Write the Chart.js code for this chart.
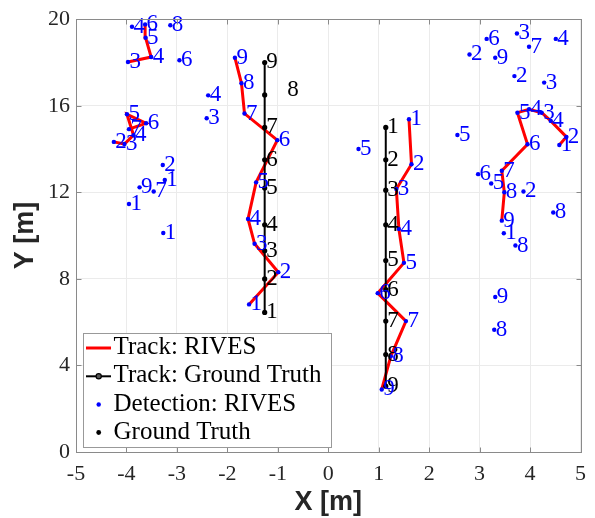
<!DOCTYPE html>
<html><head><meta charset="utf-8">
<script src="https://cdn.jsdelivr.net/npm/chart.js@4/dist/chart.umd.min.js"></script>
<style>html,body{margin:0;padding:0;background:#fff;}</style>
</head><body>
<canvas id="c" width="595" height="518"></canvas>
<script>
// ---- Data ----
// RIVES detections (blue points) with their frame number labels
const detX = [
  -3.89,-3.63,-3.62,-3.51,-3.97,-3.13,-2.95,-2.38,-2.41,
  -3.99,-3.61,-3.95,-3.86,-4.25,-4.04,
  -3.28,-3.24,-3.74,-3.46,-3.95,-3.27,
  -1.57,-0.99,-1.46,-1.59,-1.43,-1.01,-1.66,-1.72,-1.85,
  1.60,1.65,1.35,1.40,1.50,0.98,1.54,1.24,1.06,0.60,
  3.14,3.74,3.98,4.51,2.80,3.31,3.69,4.28,
  4.58,4.72,4.41,4.23,3.98,3.75,3.95,3.44,3.49,3.44,
  2.97,3.23,3.87,3.48,3.71,4.46,2.56,3.31,3.29
];
const detY = [
  19.65,19.76,19.14,18.25,18.02,19.72,18.10,16.48,15.42,
  15.61,15.19,14.92,14.64,14.33,14.23,
  13.26,12.57,12.23,12.04,11.46,10.12,
  6.82,8.31,9.62,10.77,12.46,14.41,15.64,17.04,18.22,
  15.38,13.30,12.15,10.31,8.74,7.34,6.05,4.42,2.89,14.00,
  19.09,19.34,18.73,19.09,18.37,18.22,17.37,17.07,
  14.19,14.56,15.30,15.68,15.84,15.68,14.22,13.00,12.00,10.69,
  12.84,12.41,12.04,10.11,9.54,11.07,14.65,7.16,5.65
];
const detLabels = [
  '4','6','5','4','3','8','6','4','3',
  '5','6','7','4','2','3',
  '2','1','9','7','1','1',
  '1','2','3','4','5','6','7','8','9',
  '1','2','3','4','5','6','7','8','9','5',
  '6','3','7','4','2','9','2','3',
  '1','2','4','3','4','5','6','7','8','9',
  '6','5','2','1','8','8','5','9','8'
];

// RIVES tracks (red lines)
const trackAX = [-3.97,-3.51,-3.62,-3.63];
const trackAY = [18.02,18.25,19.14,19.76];
const trackBX = [-4.25,-4.04,-3.86,-3.99,-3.61,-3.95];
const trackBY = [14.33,14.23,14.64,15.61,15.19,14.92];
const trackCX = [-1.57,-0.99,-1.46,-1.59,-1.43,-1.01,-1.66,-1.72,-1.85];
const trackCY = [6.82,8.31,9.62,10.77,12.46,14.41,15.64,17.04,18.22];
const trackDX = [1.60,1.65,1.35,1.40,1.50,0.98,1.54,1.24,1.06];
const trackDY = [15.38,13.30,12.15,10.31,8.74,7.34,6.05,4.42,2.89];
const trackEX = [4.58,4.72,4.41,4.23,3.98,3.75,3.95,3.44,3.49,3.44];
const trackEY = [14.19,14.56,15.30,15.68,15.84,15.68,14.22,13.00,12.00,10.69];

// Ground truth tracks (black)
const gtAX = [-1.26,-1.26,-1.26,-1.26,-1.26,-1.26,-1.26,-1.26,-1.26];
const gtAY = [6.45,8.0,9.3,10.5,12.2,13.5,15.0,16.5,18.0];
const gtBX = [1.14,1.14,1.14,1.14,1.14,1.14,1.14,1.14,1.14];
const gtBY = [15.0,13.5,12.1,10.5,8.85,7.5,6.05,4.5,3.04];
const gtLabels = ['1','2','3','4','5','6','7','8','9'];

// Axis ticks
const xTicks = [-5,-4,-3,-2,-1,0,1,2,3,4,5];
const yTicks = [0,4,8,12,16,20];

const legendLabels = ['Track: RIVES','Track: Ground Truth','Detection: RIVES','Ground Truth'];

// ---- Build datasets ----
const pts = (xs, ys) => xs.map((x, i) => ({x, y: ys[i]}));
const RED = '#ff0000', BLUE = '#0000ff', BLACK = '#000000';

const redTrack = (xs, ys) => ({
  data: pts(xs, ys), showLine: true, borderColor: RED, borderWidth: 3,
  pointRadius: 0, order: 3, fill: false, tension: 0
});
const gtTrack = (xs, ys) => ({
  data: pts(xs, ys), showLine: true, borderColor: BLACK, borderWidth: 2,
  pointRadius: 2.6, pointBackgroundColor: BLACK, pointBorderWidth: 0, order: 2, tension: 0, kind: 'gt'
});

const datasets = [
  redTrack(trackAX, trackAY), redTrack(trackBX, trackBY), redTrack(trackCX, trackCY),
  redTrack(trackDX, trackDY), redTrack(trackEX, trackEY),
  gtTrack(gtAX, gtAY), gtTrack(gtBX, gtBY),
  { data: pts(detX, detY), showLine: false, pointRadius: 2.2, pointBackgroundColor: BLUE,
    pointBorderWidth: 0, order: 1, kind: 'det' }
];

const AXIS = '#8a8a8a';
const SERIF = '"Liberation Serif", "DejaVu Serif", serif';
const SANS = '"Liberation Sans", Arial, sans-serif';

const decor = {
  id: 'decor',
  afterDatasetsDraw(chart) {
    const ctx = chart.ctx, xs = chart.scales.x, ys = chart.scales.y;
    ctx.save();
    ctx.font = '23px ' + SERIF;
    ctx.textAlign = 'left';
    ctx.textBaseline = 'alphabetic';
    // ground truth labels
    ctx.fillStyle = BLACK;
    [[gtAX, gtAY], [gtBX, gtBY]].forEach(([gx, gy], t) => {
      gx.forEach((x, i) => {
        let px = xs.getPixelForValue(x) + 1.5, py = ys.getPixelForValue(gy[i]) + 6;
        if (t === 0 && i === 7) { px += 21; py -= 5; }
        ctx.fillText(gtLabels[i], px, py);
      });
    });
    // detection labels
    ctx.fillStyle = BLUE;
    detX.forEach((x, i) => {
      ctx.fillText(detLabels[i], xs.getPixelForValue(x) + 1.5, ys.getPixelForValue(detY[i]) + 6);
    });
    ctx.restore();
  },
  afterDraw(chart) {
    const ctx = chart.ctx, a = chart.chartArea, xs = chart.scales.x, ys = chart.scales.y;
    ctx.save();
    // axes box + inward ticks
    ctx.strokeStyle = AXIS; ctx.lineWidth = 1;
    const L = Math.round(a.left) + 0.5, R = Math.round(a.right) + 0.5;
    const T = Math.round(a.top) + 0.5, B = Math.round(a.bottom) + 0.5;
    ctx.strokeRect(L, T, R - L, B - T);
    ctx.beginPath();
    xTicks.forEach(v => {
      const px = Math.round(xs.getPixelForValue(v)) + 0.5;
      ctx.moveTo(px, B); ctx.lineTo(px, B - 5);
      ctx.moveTo(px, T); ctx.lineTo(px, T + 5);
    });
    yTicks.forEach(v => {
      const py = Math.round(ys.getPixelForValue(v)) + 0.5;
      ctx.moveTo(L, py); ctx.lineTo(L + 5, py);
      ctx.moveTo(R, py); ctx.lineTo(R - 5, py);
    });
    ctx.stroke();

    // axis titles
    ctx.fillStyle = '#262626';
    ctx.font = 'bold 27px ' + SANS;
    ctx.textAlign = 'center'; ctx.textBaseline = 'alphabetic';
    ctx.fillText('X [m]', (a.left + a.right) / 2, 510);
    ctx.save();
    ctx.translate(33, (a.top + a.bottom) / 2);
    ctx.rotate(-Math.PI / 2);
    ctx.fillText('Y [m]', 0, 0);
    ctx.restore();

    // legend
    const bx = 83.5, by = 333.5, bw = 248, bh = 114;
    ctx.fillStyle = '#ffffff';
    ctx.fillRect(bx, by, bw, bh);
    ctx.strokeStyle = '#999999'; ctx.lineWidth = 1;
    ctx.strokeRect(bx, by, bw, bh);
    const rows = [348, 376.3, 404.5, 432.5];
    const mx = 98.7;
    // row 1 red line
    ctx.strokeStyle = RED; ctx.lineWidth = 3;
    ctx.beginPath(); ctx.moveTo(86, rows[0]); ctx.lineTo(111, rows[0]); ctx.stroke();
    // row 2 black line with circle
    ctx.strokeStyle = BLACK; ctx.lineWidth = 2;
    ctx.beginPath(); ctx.moveTo(86, rows[1]); ctx.lineTo(111, rows[1]); ctx.stroke();
    ctx.fillStyle = '#555555'; ctx.lineWidth = 1.2;
    ctx.beginPath(); ctx.arc(mx, rows[1], 2.6, 0, Math.PI * 2); ctx.fill(); ctx.stroke();
    // row 3 blue dot
    ctx.fillStyle = BLUE;
    ctx.beginPath(); ctx.arc(mx, rows[2], 2.2, 0, Math.PI * 2); ctx.fill();
    // row 4 black dot
    ctx.fillStyle = BLACK;
    ctx.beginPath(); ctx.arc(mx, rows[3], 2.4, 0, Math.PI * 2); ctx.fill();
    // texts
    ctx.fillStyle = '#000000';
    ctx.font = '25px ' + SERIF;
    ctx.textAlign = 'left'; ctx.textBaseline = 'alphabetic';
    const bases = [354.3, 382.4, 410.7, 439];
    legendLabels.forEach((t, i) => ctx.fillText(t, 113.5, bases[i]));
    ctx.restore();
  }
};

new Chart(document.getElementById('c'), {
  type: 'scatter',
  data: { datasets },
  options: {
    responsive: false,
    animation: false,
    events: [],
    layout: { padding: { left: 0, top: 18, right: 12, bottom: 0 } },
    plugins: { legend: { display: false }, tooltip: { enabled: false } },
    scales: {
      x: {
        type: 'linear', min: -5, max: 5,
        afterBuildTicks: s => { s.ticks = xTicks.map(v => ({value: v})); },
        afterFit: s => { s.height = 66; },
        grid: { color: '#ebebeb', lineWidth: 1, drawTicks: false },
        border: { display: false },
        ticks: { padding: 9, color: '#262626', font: { family: SERIF, size: 22 }, callback: v => String(v) }
      },
      y: {
        type: 'linear', min: 0, max: 20,
        afterBuildTicks: s => { s.ticks = yTicks.map(v => ({value: v})); },
        afterFit: s => { s.width = 76; },
        grid: { color: '#ebebeb', lineWidth: 1, drawTicks: false },
        border: { display: false },
        ticks: { padding: 6, color: '#262626', font: { family: SERIF, size: 22 }, callback: v => String(v) }
      }
    }
  },
  plugins: [decor]
});
</script>
</body></html>
